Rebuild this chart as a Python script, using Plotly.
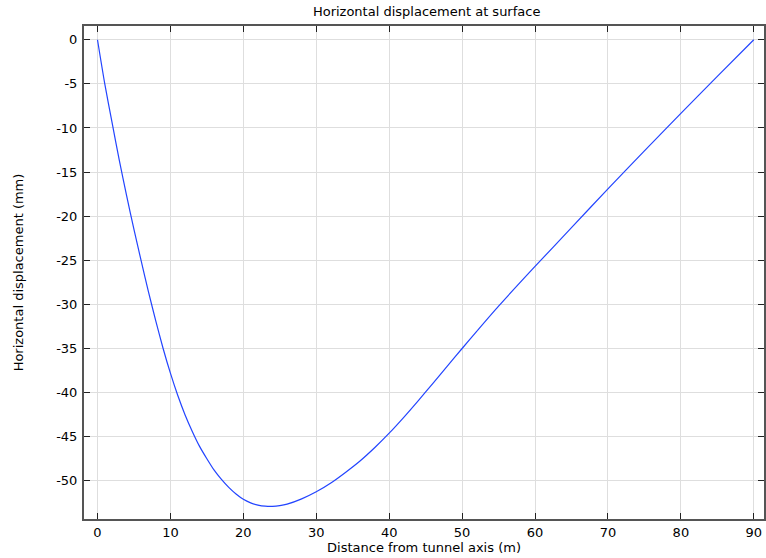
import plotly.graph_objects as go

# distance from tunnel axis (m) and horizontal displacement (mm)
distance = [0, 1, 2, 3, 4, 5, 6, 7, 8, 9, 10, 11, 12, 13, 14, 15, 16, 17, 18, 19,
            20, 21, 22, 23, 24, 25, 26, 28, 30, 32, 34, 36, 38, 40, 42, 44, 46, 48,
            50, 52, 55, 60, 65, 70, 75, 80, 85, 90]
displacement = [0, -5.0, -9.4, -13.7, -17.7, -21.5, -25.1, -28.6, -31.9, -35.0,
                -37.8, -40.3, -42.5, -44.4, -46.1, -47.5, -48.8, -49.85, -50.75, -51.5,
                -52.1, -52.5, -52.75, -52.88, -52.9, -52.82, -52.65, -52.05, -51.25, -50.25,
                -49.05, -47.75, -46.25, -44.6, -42.8, -40.9, -38.95, -36.97,
                -35.0, -33.06, -30.2, -25.7, -21.3, -16.9, -12.6, -8.35, -4.15, 0]

x_ticks = [0, 10, 20, 30, 40, 50, 60, 70, 80, 90]
y_ticks = [0, -5, -10, -15, -20, -25, -30, -35, -40, -45, -50]
y_labels = [str(v) for v in y_ticks]

FRAME = "#555555"
GRID = "#dedede"
FONT = "DejaVu Sans"
TXT = dict(family=FONT, size=13, color="black")

fig = go.Figure(go.Scatter(x=distance, y=displacement, mode="lines",
                           line=dict(color="#2244ff", width=1.2,
                                     shape="spline", smoothing=0.7),
                           showlegend=False))

fig.update_layout(
    width=766, height=558,
    margin=dict(l=84, r=2, t=26, b=39, autoexpand=False),
    plot_bgcolor="white", paper_bgcolor="white",
    font=TXT,
    title=dict(text="Horizontal displacement at surface", x=0.557, xanchor="center",
               y=1 - 11.5 / 558, yref="container", yanchor="middle", font=TXT),
)
axis_style = dict(showline=True, linecolor=FRAME, linewidth=2, mirror="allticks",
                  ticks="inside", ticklen=6, tickcolor="#222222", tickwidth=1.2,
                  showgrid=True, gridcolor=GRID, gridwidth=1, zeroline=False,
                  automargin=False, tickfont=TXT)
fig.update_xaxes(range=[-1.85, 91.4], tickvals=x_ticks, ticklabelstandoff=0,
                 title=dict(text="Distance from tunnel axis (m)", standoff=0, font=TXT),
                 **axis_style)
fig.update_yaxes(range=[-54.33, 1.56], tickvals=y_ticks, ticktext=y_labels,
                 ticklabelstandoff=2,
                 title=dict(text="Horizontal displacement (mm)", standoff=30, font=TXT),
                 **axis_style)

# drop the page's default body margin so the figure sits at the window corner
fig.write_html("out.html", config={"displayModeBar": False},
               post_script="document.body.style.margin='0px';")
